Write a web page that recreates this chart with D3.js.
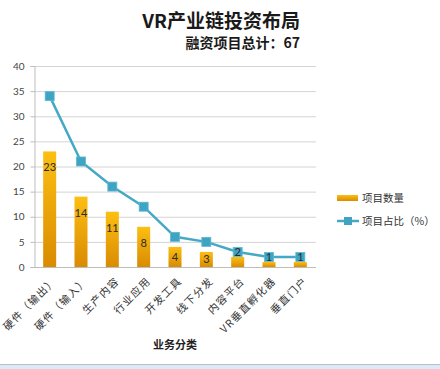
<!DOCTYPE html>
<html>
<head>
<meta charset="utf-8">
<script src="https://cdn.jsdelivr.net/npm/d3@7"></script>
<style>
  body { margin: 0; background: #fff; }
  svg { display: block; }
</style>
</head>
<body>
<div id="chart"></div>
<script>
// chart data
const categories = ["硬件（输出）", "硬件（输入）", "生产内容", "行业应用", "开发工具", "线下分发", "内容平台", "VR垂直孵化器", "垂直门户"]
const counts = [23, 14, 11, 8, 4, 3, 2, 1, 1]
const shares = [34, 21, 16, 12, 6, 5, 3, 2, 2]
const yTicks = [0, 5, 10, 15, 20, 25, 30, 35, 40]

const W = 440, H = 369
const margin = {top: 66, left: 34, right: 124, bottom: 102}
const width = W - margin.left - margin.right,
  height = H - margin.top - margin.bottom

const root = d3.select("#chart").append("svg")
  .attr("width", W)
  .attr("height", H)

const fontCJK = "'Noto Sans CJK SC', 'Noto Sans', sans-serif"

// bottom strip
root.append("rect")
  .attr("x", 0).attr("y", 364.5).attr("width", W).attr("height", 5)
  .attr("fill", "#dde9f7")
root.append("line")
  .attr("x1", 0).attr("x2", W).attr("y1", 364.5).attr("y2", 364.5)
  .attr("stroke", "#b8c0c8")

// titles
root.append("text")
  .attr("x", 300).attr("y", 28)
  .attr("text-anchor", "end")
  .style("font-family", fontCJK)
  .style("font-size", "19px")
  .style("font-weight", "bold")
  .attr("fill", "#1a1a1a")
  .text("VR产业链投资布局")
root.append("text")
  .attr("x", 300).attr("y", 48)
  .attr("text-anchor", "end")
  .style("font-family", fontCJK)
  .style("font-size", "14px")
  .style("font-weight", "bold")
  .attr("fill", "#1a1a1a")
  .text("融资项目总计：67")

const svg = root.append("g")
  .attr("transform", "translate(" + margin.left + "," + margin.top + ")")

const x = d3.scaleBand()
  .domain(categories)
  .range([0, width])

const y = d3.scaleLinear()
  .domain([0, 40])
  .range([height, 0])

// gridlines
svg.append("g")
  .selectAll("line")
  .data(yTicks.filter(d => d > 0))
  .join("line")
  .attr("x1", 0).attr("x2", width)
  .attr("y1", d => y(d) + 0.5).attr("y2", d => y(d) + 0.5)
  .attr("stroke", "#d4d4d4")

// y axis
const yAxis = svg.append("g")
  .attr("transform", "translate(0.5,0)")
  .call(d3.axisLeft(y).tickValues(yTicks).tickSize(4).tickPadding(6))
yAxis.select(".domain").attr("stroke", "#bdbdbd")
yAxis.selectAll(".tick line").attr("stroke", "#bdbdbd")
yAxis.selectAll("text")
  .style("font-family", "'Lato', 'Open Sans', sans-serif")
  .style("font-size", "10px")
  .attr("fill", "#444")

// x axis baseline
svg.append("line")
  .attr("x1", 0).attr("x2", width)
  .attr("y1", height + 0.5).attr("y2", height + 0.5)
  .attr("stroke", "#bdbdbd")

// bar gradient
const defs = root.append("defs")
const grad = defs.append("linearGradient")
  .attr("id", "barGrad")
  .attr("x1", 0).attr("x2", 0).attr("y1", 0).attr("y2", 1)
grad.append("stop").attr("offset", "0%").attr("stop-color", "#fcbf12")
grad.append("stop").attr("offset", "100%").attr("stop-color", "#d98b02")

const barW = 13
svg.selectAll(".bar")
  .data(counts)
  .join("rect")
  .attr("class", "bar")
  .attr("x", (d, i) => x(categories[i]) + x.bandwidth() / 2 - barW / 2)
  .attr("y", d => y(d))
  .attr("width", barW)
  .attr("height", d => height - y(d))
  .attr("fill", "url(#barGrad)")

// share line
const line = d3.line()
  .x((d, i) => x(categories[i]) + x.bandwidth() / 2)
  .y(d => y(d))

svg.append("path")
  .datum(shares)
  .attr("d", line)
  .attr("fill", "none")
  .attr("stroke", "#45a9c6")
  .attr("stroke-width", 2.5)

const mk = 9
svg.selectAll(".marker")
  .data(shares)
  .join("rect")
  .attr("class", "marker")
  .attr("x", (d, i) => x(categories[i]) + x.bandwidth() / 2 - mk / 2)
  .attr("y", d => y(d) - mk / 2)
  .attr("width", mk)
  .attr("height", mk)
  .attr("fill", "#3fa3c2")
  .attr("stroke", "#5db8d2")
  .attr("stroke-width", 0.8)

// bar value labels
svg.selectAll(".lbl")
  .data(counts)
  .join("text")
  .attr("class", "lbl")
  .attr("x", (d, i) => x(categories[i]) + x.bandwidth() / 2)
  .attr("y", d => {
    const top = y(d), h = height - top
    return h > 12 ? top + Math.min(16, h / 2) : top - 5
  })
  .attr("dy", "0.35em")
  .attr("text-anchor", "middle")
  .style("font-family", "'Lato', 'Open Sans', sans-serif")
  .style("font-size", "11px")
  .attr("fill", "#2a2a2a")
  .text(d => d)

// x labels
svg.append("g")
  .selectAll("text")
  .data(categories)
  .join("text")
  .attr("transform", d => "translate(" + (x(d) + x.bandwidth() / 2 + 5) + "," + (height + 12) + ") rotate(-45)")
  .attr("text-anchor", "end")
  .attr("dy", "0.35em")
  .style("font-family", fontCJK)
  .style("font-size", "10.5px")
  .style("letter-spacing", "1.2px")
  .attr("fill", "#333")
  .text(d => d)

// x axis title
root.append("text")
  .attr("x", 175).attr("y", 349)
  .attr("text-anchor", "middle")
  .style("font-family", fontCJK)
  .style("font-size", "11px")
  .style("font-weight", "bold")
  .attr("fill", "#222")
  .text("业务分类")

// legend
const lg = root.append("g").attr("transform", "translate(337,0)")
lg.append("rect")
  .attr("x", 0).attr("y", 195).attr("width", 21).attr("height", 6)
  .attr("fill", "url(#barGrad)")
lg.append("text")
  .attr("x", 25).attr("y", 198).attr("dy", "0.35em")
  .style("font-family", fontCJK).style("font-size", "10.5px").attr("fill", "#333")
  .text("项目数量")
lg.append("line")
  .attr("x1", 0).attr("x2", 22).attr("y1", 221).attr("y2", 221)
  .attr("stroke", "#45a9c6").attr("stroke-width", 2.5)
lg.append("rect")
  .attr("x", 7).attr("y", 217).attr("width", 8).attr("height", 8)
  .attr("fill", "#3fa3c2")
lg.append("text")
  .attr("x", 25).attr("y", 221).attr("dy", "0.35em")
  .style("font-family", fontCJK).style("font-size", "10.5px").attr("fill", "#333")
  .text("项目占比（%）")
</script>
</body>
</html>
